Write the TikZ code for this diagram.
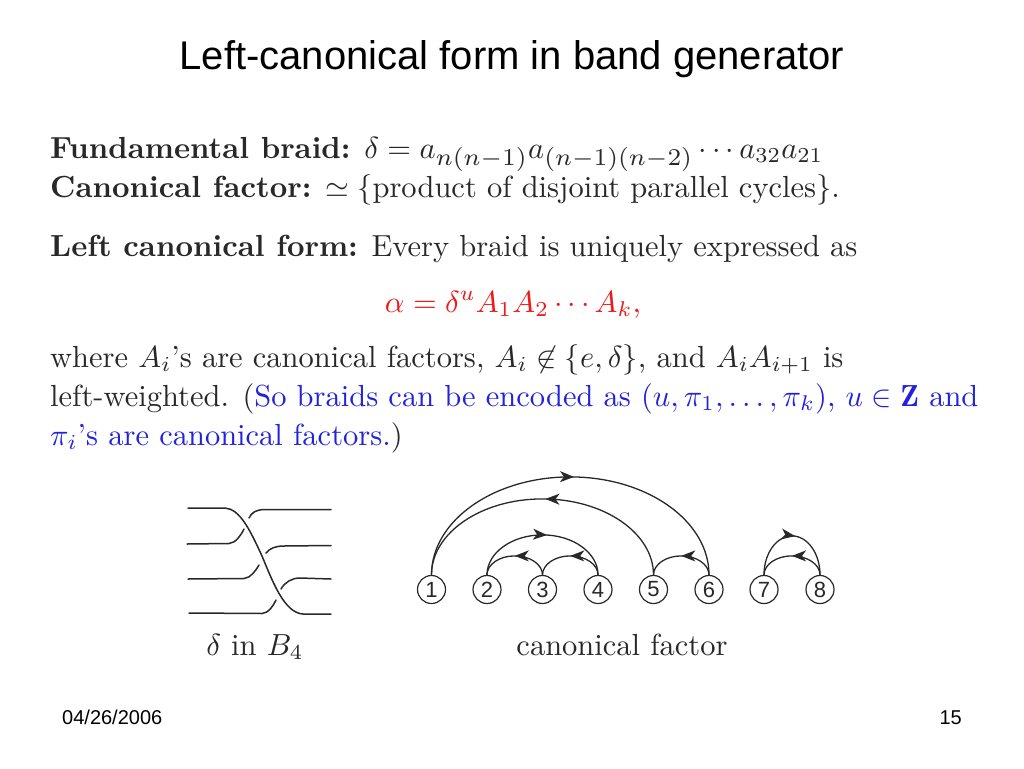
\documentclass[tikz,border=0pt]{standalone}
\usepackage{fontspec}
\usepackage{amsmath,amssymb,graphicx}
\newfontfamily\arialf{Liberation Sans}
\usetikzlibrary{decorations.markings,arrows.meta,calc}
\definecolor{inkc}{HTML}{282828}
\definecolor{redc}{HTML}{F01818}
\definecolor{bluec}{HTML}{2222DD}
\newcommand{\bt}[1]{\scalebox{3.05}{#1}}
\newcommand{\wsub}[1]{\scalebox{1.13}{$\scriptstyle #1$}}
\tikzset{
  body/.style={anchor=base west,inner sep=0pt,text=inkc},
  lbl/.style={anchor=base,inner sep=0pt,text=inkc},
  num/.style={circle,draw=inkc,line width=1.2pt,minimum size=28pt,inner sep=0pt,text=inkc,font=\arialf\fontsize{22}{22}\selectfont},
  strand/.style={draw=inkc,line width=1.5pt,line cap=round},
  arcline/.style={draw=inkc,line width=1.3pt,postaction={decorate},decoration={markings,mark=at position #1 with {\arrow{Stealth[length=14pt,width=11pt,inset=4pt]}}}}
}
% \archop{from}{to}{height}{style}
\newcommand{\archop}[4]{%
  \path let \p1=(#1.north),\p2=(#2.north) in
    [#4] (#1.north) .. controls +(0,{#3*0.5523pt}) and +({-0.5523*0.5*(\x2-\x1)},0) .. ({0.5*(\x1+\x2)},{\y1+#3*1pt})
    .. controls +({0.5523*0.5*(\x2-\x1)},0) and +(0,{#3*0.5523pt}) .. (#2.north);}
\begin{document}
\begin{tikzpicture}[x=1pt,y=-1pt]
\useasboundingbox (0,0) rectangle (1024,768);
\node[anchor=base,inner sep=0pt,font=\arialf\fontsize{40}{44}\selectfont] (title) at (512,69) {Left-canonical form in band generator};
\node[body] (l1) at (50,158) {\bt{\textbf{Fundamental braid:} $\delta=a_{\wsub{n(n-1)}}a_{\wsub{(n-1)(n-2)}}\cdots a_{32}a_{21}$}};
\node[body] (l2) at (50,197) {\bt{\textbf{Canonical factor:} $\simeq\{$product of disjoint parallel cycles$\}$.}};
\node[body] (l3) at (50,256) {\bt{\textbf{Left canonical form:} Every braid is uniquely expressed as}};
\node[lbl,text=redc] (l4) at (513,312) {\bt{$\alpha=\delta^uA_1A_2\cdots A_k$,}};
\node[body] (l5) at (50,367) {\bt{where $A_i$'s are canonical factors, $A_i\not\in\{e,\delta\}$, and $A_iA_{i+1}$ is}};
\node[body] (l6) at (50,406) {\bt{left-weighted. (\textcolor{bluec}{So braids can be encoded as $(u,\pi_1,\ldots,\pi_k)$, $u\in\mathbf{Z}$ and}}};
\node[body] (l7) at (50,445) {\bt{\textcolor{bluec}{$\pi_i$'s are canonical factors.})}};
% braid
\draw[strand] (188,508) -- (225,508) .. controls (240,509) and (250,530) .. (262,556) .. controls (272,580) and (284,613) .. (303,614) -- (331,614);
\draw[strand] (187,544) -- (229,543.5) .. controls (236,543) and (241,535) .. (244,529);
\draw[strand] (249,518) .. controls (252,512) and (256,510) .. (264,509.5) -- (331,509.5);
\draw[strand] (188,579) -- (244,578.5) .. controls (251,578) and (256,570) .. (259,565);
\draw[strand] (266,553) .. controls (270,548) and (276,546) .. (284,546) -- (331,545.5);
\draw[strand] (189,613) -- (262,613.5) .. controls (269,613) and (273,606) .. (276,600);
\draw[strand] (281,589) .. controls (285,582) and (292,578) .. (300,578) -- (331,579);
\node[lbl] (d) at (255,655) {\bt{$\delta$ in $B_4$}};
% nodes
\foreach \n/\xx in {1/431.5,2/487,3/542.5,4/598,5/653.5,6/709,7/764,8/820}
  \node[num] (n\n) at (\xx,589.5) {\n};
\node[lbl] (c) at (622,655) {\bt{canonical factor}};
\archop{n1}{n6}{98}{arcline=0.51}
\archop{n5}{n1}{76}{arcline=0.49}
\archop{n2}{n4}{40}{arcline=0.53}
\archop{n3}{n2}{19}{arcline=0.5}
\archop{n4}{n3}{19}{arcline=0.5}
\archop{n6}{n5}{19}{arcline=0.5}
\archop{n7}{n8}{39}{arcline=0.53}
\archop{n8}{n7}{19}{arcline=0.5}
\node[anchor=base west,inner sep=0pt,font=\arialf\fontsize{20}{20}\selectfont] (date) at (62,724) {04/26/2006};
\node[anchor=base east,inner sep=0pt,font=\arialf\fontsize{20}{20}\selectfont] (page) at (962,724) {15};
\end{tikzpicture}
\end{document}
